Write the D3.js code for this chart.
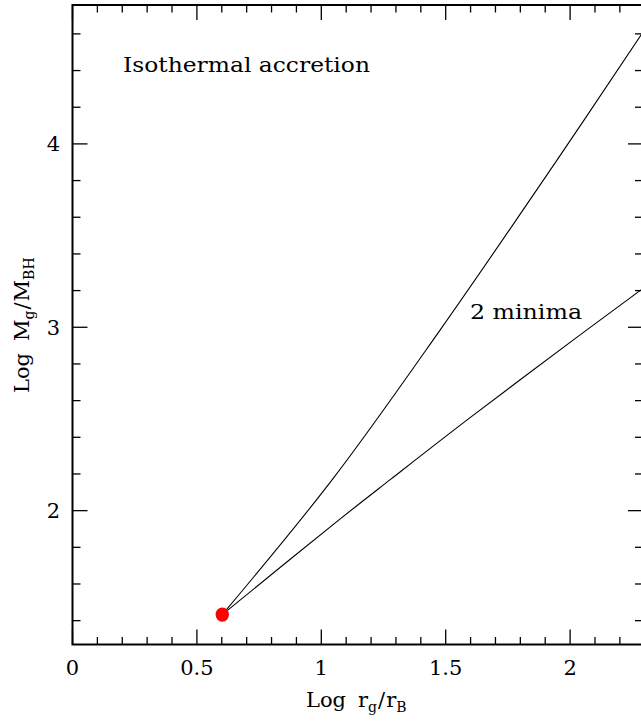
<!DOCTYPE html>
<html>
<head>
<meta charset="utf-8">
<script src="https://cdn.jsdelivr.net/npm/d3@7"></script>
<style>
  body { margin: 0; background: #fff; }
  svg { display: block; }
  text { font-family: "DejaVu Serif", "Liberation Serif", serif; fill: #000; }
</style>
</head>
<body>
<div id="chart"></div>
<script>
// Values (Log r_g/r_B , Log M_g/M_BH)
const upperX = [0.602, 1.044, 1.478, 1.948, 2.285, 2.30];
const upperY = [1.433, 2.169, 2.986, 3.913, 4.594, 4.625];
const lowerX = [0.602, 1.076, 1.277, 1.598, 2.028, 2.281, 2.30];
const lowerY = [1.433, 1.955, 2.169, 2.507, 2.946, 3.200, 3.218];
const startPoint = [0.602, 1.433];
const xMajor = [0, 0.5, 1, 1.5, 2];
const xTickLabels = ["0", "0.5", "1", "1.5", "2"];
const yMajor = [2, 3, 4];
const yTickLabels = ["2", "3", "4"];

function init() {
  var W = 641, H = 724;
  var left = 72.5, right = 643, top = 5, bottom = 644.5;

  var svg = d3.select("#chart").append("svg").attr("width", W).attr("height", H);

  var x = d3.scaleLinear().domain([0, 2.293]).range([left, right]);
  var y = d3.scaleLinear().domain([1.27, 4.7575]).range([bottom, top]);

  // clip for curves
  svg.append("clipPath").attr("id", "clip")
    .append("rect").attr("x", left).attr("y", top)
    .attr("width", right - left).attr("height", bottom - top);

  // minor / major ticks
  var xMinor = d3.range(0, 23).map(i => i / 10).filter(v => xMajor.indexOf(v) < 0);
  var yMinor = d3.range(7, 24).map(i => +(i * 0.2).toFixed(1)).filter(v => yMajor.indexOf(v) < 0);

  var ticks = svg.append("g").attr("stroke", "#000").attr("stroke-width", 1.3);
  function xTick(v, len) {
    ticks.append("line").attr("x1", x(v)).attr("x2", x(v)).attr("y1", bottom).attr("y2", bottom - len);
    ticks.append("line").attr("x1", x(v)).attr("x2", x(v)).attr("y1", top).attr("y2", top + len);
  }
  function yTick(v, len) {
    ticks.append("line").attr("x1", left).attr("x2", left + len).attr("y1", y(v)).attr("y2", y(v));
    ticks.append("line").attr("x1", right).attr("x2", right - len).attr("y1", y(v)).attr("y2", y(v));
  }
  xMinor.forEach(v => xTick(v, 7.5));
  xMajor.forEach(v => xTick(v, 15));
  yMinor.forEach(v => yTick(v, 8));
  yMajor.forEach(v => yTick(v, 15));

  // frame
  svg.append("rect").attr("x", left).attr("y", top)
    .attr("width", right - left).attr("height", bottom - top)
    .attr("fill", "none").attr("stroke", "#000").attr("stroke-width", 2);

  // tick labels
  svg.selectAll(".xl").data(xMajor).enter().append("text")
    .attr("x", d => x(d)).attr("y", 675)
    .attr("text-anchor", "middle").attr("font-size", 21)
    .text((d, i) => xTickLabels[i]);
  svg.selectAll(".yl").data(yMajor).enter().append("text")
    .attr("x", 60).attr("y", d => y(d) + 7.5)
    .attr("text-anchor", "end").attr("font-size", 21)
    .text((d, i) => yTickLabels[i]);

  // curves
  var line = d3.line().x(d => x(d[0])).y(d => y(d[1])).curve(d3.curveCatmullRom.alpha(0.5));
  var g = svg.append("g").attr("clip-path", "url(#clip)");
  g.append("path").datum(upperX.map((v, i) => [v, upperY[i]]))
    .attr("d", line).attr("fill", "none").attr("stroke", "#000").attr("stroke-width", 1.1);
  g.append("path").datum(lowerX.map((v, i) => [v, lowerY[i]]))
    .attr("d", line).attr("fill", "none").attr("stroke", "#000").attr("stroke-width", 1.1);

  // starting point
  svg.append("ellipse").attr("cx", x(startPoint[0])).attr("cy", y(startPoint[1]))
    .attr("rx", 6.7).attr("ry", 7.2).attr("fill", "#ff0000");

  // annotations
  svg.append("text").attr("x", 123).attr("y", 72).attr("font-size", 20)
    .attr("textLength", 247).attr("lengthAdjust", "spacingAndGlyphs")
    .text("Isothermal accretion");
  svg.append("text").attr("x", 470).attr("y", 319).attr("font-size", 20)
    .attr("textLength", 112).attr("lengthAdjust", "spacingAndGlyphs")
    .text("2 minima");

  // x axis label
  var xl = svg.append("text").attr("x", 306).attr("y", 707).attr("font-size", 21);
  xl.append("tspan").text("Log");
  xl.append("tspan").attr("dx", 12).text("r");
  xl.append("tspan").attr("font-size", 14).attr("dy", 5).text("g");
  xl.append("tspan").attr("dy", -5).attr("dx", 1).text("/");
  xl.append("tspan").attr("dx", 1).text("r");
  xl.append("tspan").attr("font-size", 14).attr("dy", 5).text("B");

  // y axis label
  var yl = svg.append("text").attr("transform", "translate(29,393) rotate(-90)").attr("font-size", 21);
  yl.append("tspan").text("Log");
  yl.append("tspan").attr("dx", 12).text("M");
  yl.append("tspan").attr("font-size", 14).attr("dy", 5).text("g");
  yl.append("tspan").attr("dy", -5).attr("dx", 1).text("/");
  yl.append("tspan").attr("dx", 1).text("M");
  yl.append("tspan").attr("font-size", 14).attr("dy", 5).text("BH");
}

window.onload = init;
</script>
</body>
</html>
